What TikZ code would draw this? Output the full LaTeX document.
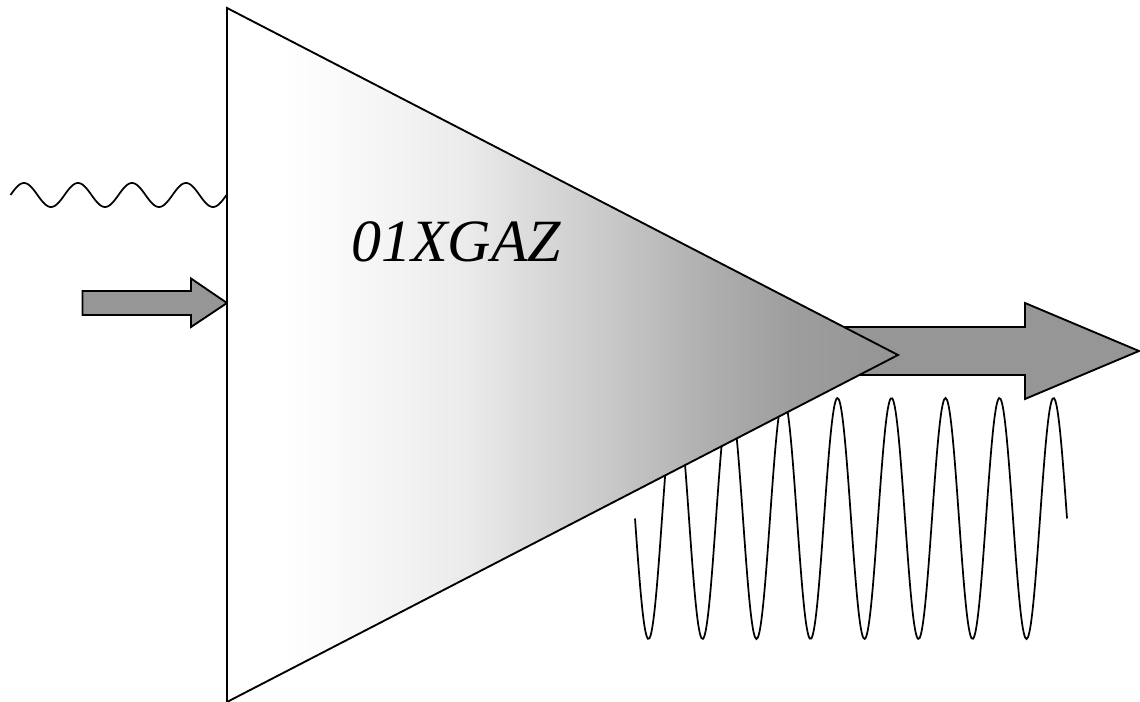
\documentclass[tikz,border=0pt]{standalone}
\usepackage{fontspec}
\setmainfont{Liberation Serif}
\definecolor{arrowgray}{RGB}{150,150,150}
\pgfdeclarehorizontalshading{ampshade}{100bp}{color(0bp)=(white); color(29bp)=(white);
  color(35bp)=(black!3); color(43bp)=(black!8); color(47.5bp)=(black!14); color(54bp)=(black!22);
  color(60.5bp)=(black!31); color(67bp)=(black!38); color(75bp)=(black!42); color(100bp)=(black!42)}
\tikzset{
  outline/.style={draw=black,line width=1.4pt,line join=miter},
  wave/.style={draw=black,line width=1.3pt,smooth},
  arrowbody/.style={outline,fill=arrowgray}
}
\begin{document}
\begin{tikzpicture}[x=0.75pt,y=-0.75pt]
\useasboundingbox (0,0) rectangle (1140,702);
% high sine behind the triangle
\draw[wave] plot[domain=0:432,samples=300] ({635+\x},{518.5+120.5*sin(\x*6.66667)});
% low sine
\draw[wave] plot[domain=0:216,samples=160] ({10.5+\x},{195-12*sin(\x*6.66667)});
% arrows
\draw[arrowbody] (82.5,291) -- (191,291) -- (191,278.5) -- (227,303) -- (191,327) -- (191,315) -- (82.5,315) -- cycle;
\draw[arrowbody] (800,327) -- (1025,327) -- (1025,303) -- (1139,351) -- (1025,399) -- (1025,375) -- (800,375) -- cycle;
% triangle
\shade[shading=ampshade] (227,8) -- (898,355) -- (227,702) -- cycle;
\draw[outline] (227,8) -- (898,355) -- (227,702) -- cycle;
\node[inner sep=0pt,anchor=base west,font=\fontsize{45}{45}\selectfont\itshape] (amplabel) at (351,262) {01XGAZ};
\end{tikzpicture}
\end{document}
